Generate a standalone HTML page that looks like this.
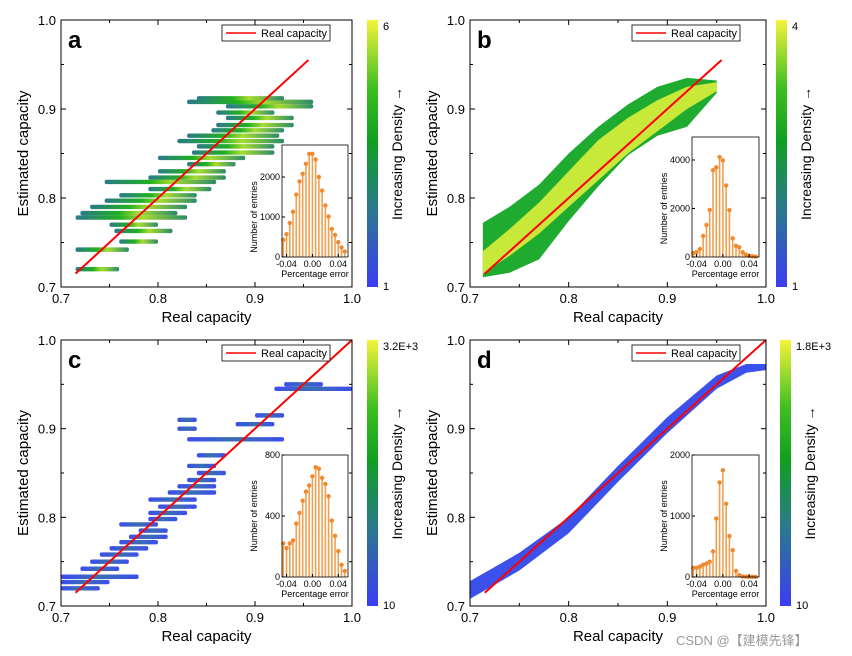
<!DOCTYPE html>
<html><head><meta charset="utf-8">
<style>
body{margin:0;background:#fff;}
svg{display:block;font-family:"Liberation Sans",Arial,sans-serif;}
</style></head>
<body>
<svg id="fig" width="852" height="656" viewBox="0 0 852 656" xmlns="http://www.w3.org/2000/svg">
<defs>
<linearGradient id="cbar" x1="0" y1="1" x2="0" y2="0">
<stop offset="0" stop-color="#3c3cf5"/><stop offset="0.3" stop-color="#2a7a8a"/><stop offset="0.55" stop-color="#10a020"/><stop offset="0.75" stop-color="#40c020"/><stop offset="1" stop-color="#f4f43a"/>
</linearGradient>
<linearGradient id="streak" x1="0" y1="0" x2="1" y2="0">
<stop offset="0" stop-color="#2a7a8a"/><stop offset="0.4" stop-color="#20b020"/><stop offset="0.6" stop-color="#a8dc30"/><stop offset="1" stop-color="#2a8a6a"/>
</linearGradient>
<linearGradient id="streakb" x1="0" y1="0" x2="1" y2="0">
<stop offset="0" stop-color="#3c4cf0"/><stop offset="0.5" stop-color="#3a70b0"/><stop offset="1" stop-color="#3c4cf0"/>
</linearGradient>
</defs>
<g id="root"></g>
<text x="676" y="645" font-size="13" fill="#999" font-family="Liberation Sans, Noto Sans CJK SC, sans-serif">CSDN @【建模先锋】</text>
</svg>
<script>
// ---- data ----
const histBinsA=[-0.045,-0.04,-0.035,-0.03,-0.025,-0.02,-0.015,-0.01,-0.005,0,0.005,0.01,0.015,0.02,0.025,0.03,0.035,0.04,0.045,0.05];
const histA=[430,570,850,1130,1560,1890,2080,2330,2580,2580,2440,2000,1660,1290,1010,700,550,370,240,140];
const histB=[160,200,330,870,1320,1940,3580,3700,4120,3980,2950,1930,770,460,400,200,100,50,30,20];
const histC=[220,190,220,240,350,420,500,560,600,660,720,710,650,610,530,370,270,170,80,40];
const histD=[150,150,170,200,220,250,420,960,1550,1750,1200,670,440,100,30,10,5,3,2,1];
const streaksA=[[0.720,0.715,0.76],[0.742,0.715,0.77],[0.751,0.76,0.80],[0.763,0.755,0.815],[0.770,0.75,0.80],[0.778,0.715,0.83],[0.783,0.72,0.82],[0.790,0.73,0.83],[0.797,0.745,0.84],[0.803,0.76,0.84],[0.810,0.79,0.855],[0.818,0.745,0.86],[0.823,0.79,0.87],[0.830,0.80,0.87],[0.838,0.83,0.88],[0.845,0.80,0.89],[0.851,0.835,0.92],[0.858,0.84,0.92],[0.864,0.82,0.93],[0.870,0.83,0.925],[0.876,0.855,0.93],[0.882,0.86,0.94],[0.890,0.87,0.94],[0.896,0.86,0.92],[0.903,0.87,0.96],[0.908,0.83,0.96],[0.912,0.84,0.93]];
const streaksC=[[0.720,0.70,0.74],[0.727,0.70,0.75],[0.733,0.70,0.78],[0.742,0.72,0.76],[0.750,0.73,0.77],[0.758,0.74,0.78],[0.765,0.75,0.79],[0.772,0.76,0.80],[0.778,0.77,0.81],[0.785,0.78,0.81],[0.792,0.76,0.80],[0.798,0.79,0.82],[0.805,0.79,0.83],[0.812,0.80,0.84],[0.820,0.79,0.84],[0.828,0.81,0.86],[0.835,0.82,0.86],[0.842,0.83,0.86],[0.850,0.84,0.87],[0.858,0.83,0.86],[0.870,0.84,0.87],[0.888,0.83,0.93],[0.900,0.82,0.84],[0.905,0.88,0.92],[0.910,0.82,0.84],[0.915,0.90,0.93],[0.945,0.92,1.0],[0.950,0.93,0.97]];
const bandX=[0.713,0.74,0.77,0.80,0.83,0.86,0.89,0.92,0.95];
const bandLoB=[0.711,0.716,0.731,0.774,0.813,0.848,0.870,0.880,0.918];
const bandHiB=[0.772,0.79,0.815,0.85,0.88,0.905,0.925,0.935,0.932];
const coreLoB=[0.715,0.735,0.76,0.79,0.82,0.85,0.875,0.90,0.92];
const coreHiB=[0.74,0.765,0.795,0.83,0.865,0.89,0.91,0.925,0.93];
const bandXD=[0.70,0.75,0.80,0.85,0.90,0.95,0.98,1.0];
const bandLoD=[0.708,0.740,0.782,0.840,0.895,0.945,0.963,0.966];
const bandHiD=[0.728,0.760,0.800,0.858,0.913,0.960,0.973,0.973];
const axisTicks=[0.7,0.8,0.9,1.0];
const axisTickLabels=["0.7","0.8","0.9","1.0"];
const insetXTicks=[-0.04,0,0.04];
const insetXLabels=["-0.04","0.00","0.04"];

const NS="http://www.w3.org/2000/svg";
const root=document.getElementById('root');
function el(tag,attrs,parent,text){const e=document.createElementNS(NS,tag);for(const k in attrs)e.setAttribute(k,attrs[k]);if(text!==undefined)e.textContent=text;(parent||root).appendChild(e);return e;}

function panel(P){
  const g=el('g',{});
  
  
  const sx=v=>P.x0+(v-0.7)/0.3*(P.x1-P.x0);
  const sy=v=>P.y1-(v-0.7)/0.3*(P.y1-P.y0);
  const cg=el('g',{},g);
  
  
  if(P.streaks){
    P.streaks.forEach(s=>{
      const r=el('rect',{x:sx(s[1]),y:sy(s[0])-2.2,width:sx(s[2])-sx(s[1]),height:4.4,rx:2,fill:P.blue?'url(#streakb)':'url(#streak)'},cg);
      
      
    });
  }
  if(P.band){
    const poly=(xs,lo,hi,fill,name)=>{
      let pts=xs.map((x,i)=>sx(x)+','+sy(hi[i]));
      pts=pts.concat(xs.map((x,i)=>sx(x)+','+sy(lo[i])).reverse());
      const p=el('polygon',{points:pts.join(' '),fill:fill},cg);
      
      
    };
    poly(P.band[0],P.band[1],P.band[2],P.band[3],'density-band');
    if(P.core) poly(P.band[0],P.core[0],P.core[1],'#c8e83a','density-core');
  }
  const d=el('line',{x1:sx(0.715),y1:sy(0.715),x2:sx(P.diagEnd),y2:sy(P.diagEnd),stroke:'#f00','stroke-width':2},g);
  
  
  const f=el('rect',{x:P.x0,y:P.y0,width:P.x1-P.x0,height:P.y1-P.y0,fill:'none',stroke:'#000','stroke-width':1},g);
  
  
  for(let v=0.7;v<=1.0001;v+=0.05){
    const big=Math.abs(v*10-Math.round(v*10))<1e-6, L=big?5:3;
    el('line',{x1:sx(v),y1:P.y1,x2:sx(v),y2:P.y1-L,stroke:'#000'},g);
    el('line',{x1:sx(v),y1:P.y0,x2:sx(v),y2:P.y0+L,stroke:'#000'},g);
    el('line',{x1:P.x0,y1:sy(v),x2:P.x0+L,y2:sy(v),stroke:'#000'},g);
    el('line',{x1:P.x1,y1:sy(v),x2:P.x1-L,y2:sy(v),stroke:'#000'},g);
  }
  axisTicks.forEach((v,i)=>{
    const t=el('text',{x:sx(v),y:P.y1+16,'font-size':13,'text-anchor':'middle'},g,axisTickLabels[i]);
    
    
    const u=el('text',{x:P.x0-5,y:sy(v)+5,'font-size':13,'text-anchor':'end'},g,axisTickLabels[i]);
    
    
  });
  const xt=el('text',{x:(P.x0+P.x1)/2,y:P.y1+35,'font-size':15,'text-anchor':'middle'},g,'Real capacity');
  
  
  const yt=el('text',{x:0,y:0,'font-size':15,'text-anchor':'middle',transform:`translate(${P.x0-33},${(P.y0+P.y1)/2}) rotate(-90)`},g,'Estimated capacity');
  
  
  const lt=el('text',{x:P.x0+7,y:P.y0+28,'font-size':24,'font-weight':'bold'},g,P.letter);
  
  
  const lg=el('g',{},g);
  
  
  el('rect',{x:P.lx,y:P.y0+5,width:108,height:16,fill:'#fff',stroke:'#000','stroke-width':0.8},lg);
  el('line',{x1:P.lx+4,y1:P.y0+13,x2:P.lx+34,y2:P.y0+13,stroke:'#f00','stroke-width':1.5},lg);
  el('text',{x:P.lx+39,y:P.y0+17,'font-size':11},lg,'Real capacity');
  const cb=el('g',{},g);
  
  
  el('rect',{x:P.cbx,y:P.y0,width:11,height:P.y1-P.y0,fill:'url(#cbar)'},cb);
  el('text',{x:P.cbx+16,y:P.y0+10,'font-size':11},cb,P.cbMax);
  el('text',{x:P.cbx+16,y:P.y1+3,'font-size':11},cb,P.cbMin);
  el('text',{x:0,y:0,'font-size':14,'text-anchor':'middle',transform:`translate(${P.cbx+35},${(P.y0+P.y1)/2}) rotate(-90)`},cb,'Increasing Density \u2192');
  const ig=el('g',{},g);
  
  
  const I=P.inset;
  el('rect',{x:I.x0,y:I.y0,width:I.x1-I.x0,height:I.y1-I.y0,fill:'#fff',stroke:'none'},ig);
  const ix=v=>I.x0+(v+0.047)/0.102*(I.x1-I.x0);
  const iy=v=>I.y1-v/I.max*(I.y1-I.yMax);
  histBinsA.forEach((b,i)=>{
    const v=P.hist[i];
    const s=el('line',{x1:ix(b),y1:I.y1,x2:ix(b),y2:iy(v),stroke:'#f0a050','stroke-width':1.6},ig);
    
    
    const c=el('circle',{cx:ix(b),cy:iy(v),r:2.2,fill:'#f08a30'},ig);
    
    
  });
  el('rect',{x:I.x0,y:I.y0,width:I.x1-I.x0,height:I.y1-I.y0,fill:'none',stroke:'#000','stroke-width':0.8},ig);
  I.yt.forEach(v=>{
    el('line',{x1:I.x0,y1:iy(v),x2:I.x0+3,y2:iy(v),stroke:'#000'},ig);
    el('text',{x:I.x0-2,y:iy(v)+3,'font-size':9,'text-anchor':'end'},ig,String(v));
  });
  insetXTicks.forEach((v,i)=>{
    el('line',{x1:ix(v),y1:I.y1,x2:ix(v),y2:I.y1-3,stroke:'#000'},ig);
    el('text',{x:ix(v),y:I.y1+10,'font-size':9,'text-anchor':'middle'},ig,insetXLabels[i]);
  });
  el('text',{x:(I.x0+I.x1)/2,y:I.y1+20,'font-size':9,'text-anchor':'middle'},ig,'Percentage error');
  el('text',{x:0,y:0,'font-size':9,'text-anchor':'middle',transform:`translate(${I.x0-25},${(I.yMax+I.y1)/2}) rotate(-90)`},ig,'Number of entries');
}

panel({letter:'a',x0:61,x1:352,y0:20,y1:287,diagEnd:0.955,lx:222,cbx:367,cbMax:'6',cbMin:'1',streaks:streaksA,hist:histA,
  inset:{x0:282,x1:348,y0:145,y1:257,yMax:177,max:2000,yt:[0,1000,2000]}});
panel({letter:'b',x0:470,x1:766,y0:20,y1:287,diagEnd:0.955,lx:632,cbx:776,cbMax:'4',cbMin:'1',band:[bandX,bandLoB,bandHiB,'#1faa30'],core:[coreLoB,coreHiB],hist:histB,
  inset:{x0:692,x1:759,y0:137,y1:257,yMax:160,max:4000,yt:[0,2000,4000]}});
panel({letter:'c',x0:61,x1:352,y0:340,y1:606,diagEnd:1.0,lx:222,cbx:367,cbMax:'3.2E+3',cbMin:'10',streaks:streaksC,blue:true,hist:histC,
  inset:{x0:282,x1:348,y0:455,y1:577,yMax:455,max:800,yt:[0,400,800]}});
panel({letter:'d',x0:470,x1:766,y0:340,y1:606,diagEnd:1.0,lx:632,cbx:780,cbMax:'1.8E+3',cbMin:'10',band:[bandXD,bandLoD,bandHiD,'#3c50ec'],hist:histD,
  inset:{x0:692,x1:759,y0:455,y1:577,yMax:455,max:2000,yt:[0,1000,2000]}});
</script>
</body></html>
